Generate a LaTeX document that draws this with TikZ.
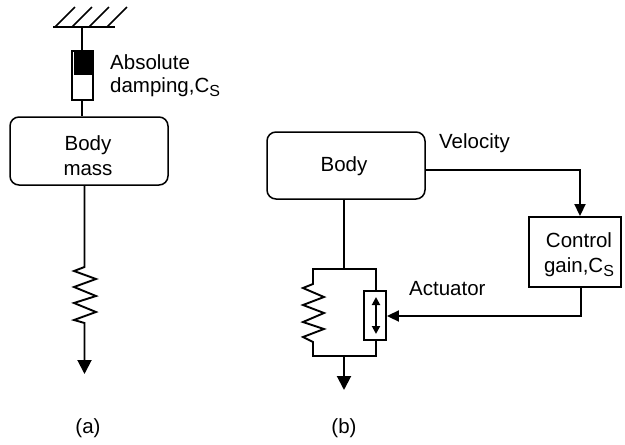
\documentclass[tikz,border=0pt]{standalone}
\usepackage{fontspec}
\setmainfont{Liberation Sans}
\usetikzlibrary{arrows.meta}
\tikzset{
  ln/.style={line width=1.9pt,line join=miter},
  stem/.style={line width=2pt},
  lab/.style={font=\fontsize{20.5}{25}\selectfont,inner sep=0pt,align=center},
  labl/.style={font=\fontsize{20.5}{25}\selectfont,inner sep=0pt,align=left,anchor=west},
  big/.style={-{Triangle[length=14pt,width=14pt]}},
  mid/.style={-{Triangle[length=12pt,width=11pt]}},
  dbl/.style={{Triangle[length=8pt,width=8pt]}-{Triangle[length=8pt,width=8pt]}},
  boxr/.style={draw,line width=1.5pt,rounded corners=9pt,inner sep=0pt},
  boxs/.style={draw,ln,inner sep=0pt}
}
\newcommand{\Csub}{C\raisebox{-4pt}{\fontsize{16}{16}\selectfont S}}
\begin{document}
\begin{tikzpicture}[x=1pt,y=-1pt]
\useasboundingbox (0,0) rectangle (625,445);
% (a)
\coordinate (g1) at (53,27); \coordinate (g2) at (115,27);
\coordinate (gs) at (82,27);
\draw[ln] (g1) -- (g2);
\foreach \x in {55,72,89,107}{\draw[line width=1.5pt] (\x,27) -- (\x+20,7);}
\node[boxs,minimum width=21pt,minimum height=49pt] (damper) at (82.5,75.5) {};
\fill (74,51) rectangle (92,75);
\node[boxr,minimum width=158pt,minimum height=68pt] (bodya) at (89,151) {};
\node[lab] at (88,155.5) {Body\\mass};
\draw[stem] (gs) -- (damper.north -| gs);
\draw[stem] (damper.south -| gs) -- (bodya.north -| gs);
\node[labl] at (110,62) {Absolute};
\node[labl] at (110,87) {damping,\Csub};
\coordinate (ta) at (84.5,374);
\draw[ln] (bodya.south -| ta) -- (84.5,267) -- (74,271) -- (96,279) -- (74,287) -- (96,296) -- (74,303) -- (96,312) -- (74,320) -- (84.5,323) -- (84.5,360);
\draw[ln,big] (84.5,350) -- (ta);
\node[lab] at (88,428) {(a)};
% (b)
\node[boxr,minimum width=158pt,minimum height=67pt] (bodyb) at (346,165.5) {};
\node[lab] at (344,166) {Body};
\node[labl] at (439,143) {Velocity};
\node[boxs,minimum width=92pt,minimum height=70pt] (ctrl) at (575,252) {};
\node[lab] at (579,255) {Control\\gain,\Csub};
\node[boxs,minimum width=22pt,minimum height=49pt] (act) at (375,315.5) {};
\node[labl] at (409,289) {Actuator};
\node[lab] at (344,428) {(b)};
\coordinate (t1) at (344,269); \coordinate (b1) at (344,356); \coordinate (tb) at (344,390);
\draw[stem] (bodyb.south -| t1) -- (t1);
\draw[ln] (376,291) -- (376,269) -- (313,269) -- (313,284) -- (303,288) -- (324,297) -- (303,305) -- (324,313) -- (303,322) -- (324,329) -- (303,337) -- (313,342) -- (313,356) -- (376,356) -- (376,340);
\draw[stem,big] (b1) -- (tb);
\draw[ln,dbl] (376,297) -- (376,334);
\draw[ln,mid] (bodyb.east |- 0,170) -- (580,170) -- (ctrl.north -| 580,0);
\draw[ln,mid] (ctrl.south -| 581,0) -- (581,316) -- (act.east |- 0,316);
\end{tikzpicture}
\end{document}
